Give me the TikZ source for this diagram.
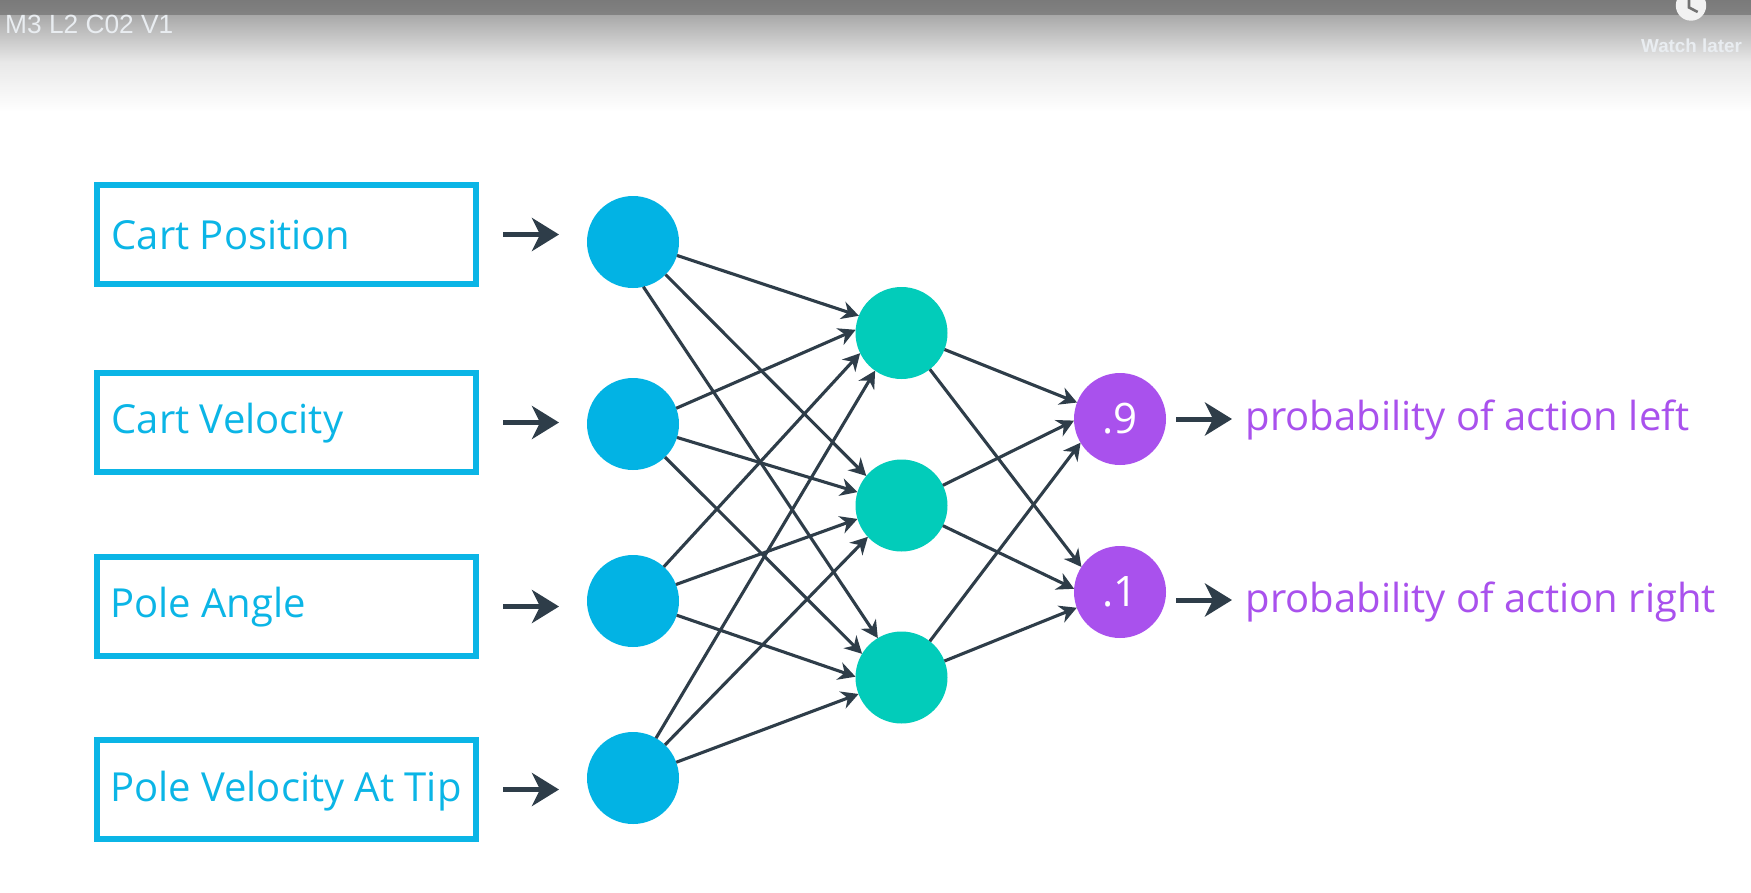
\documentclass[tikz,border=0pt]{standalone}
\usepackage{fontspec}
\setmainfont{Open Sans}
\newfontfamily\uifont{Liberation Sans}
\usetikzlibrary{arrows.meta}
\definecolor{inblue}{HTML}{02B3E4}
\definecolor{boxblue}{HTML}{0BB5E6}
\definecolor{hidteal}{HTML}{02CCBA}
\definecolor{outpurple}{HTML}{A951ED}
\definecolor{edgedark}{HTML}{2E3D49}
\definecolor{uilight}{HTML}{E9EDF1}
\tikzset{
  unit/.style={circle,minimum size=92pt,inner sep=0pt,outer sep=0pt,text=white,font=\fontsize{42}{48}\selectfont},
  inunit/.style={unit,fill=inblue},
  hidunit/.style={unit,fill=hidteal},
  outunit/.style={unit,fill=outpurple},
  featbox/.style={rectangle,draw=boxblue,line width=6pt,minimum width=379pt,minimum height=99pt,inner sep=0pt},
  featlabel/.style={anchor=base west,inner sep=0pt,text=boxblue,font=\fontsize{40}{48}\selectfont},
  outlabel/.style={anchor=base west,inner sep=0pt,text=outpurple,font=\fontsize{40}{48}\selectfont},
  thin edge/.style={draw=edgedark,line width=3.1pt,-{Stealth[length=17pt,width=18pt,inset=5.5pt]}},
  bold edge/.style={draw=edgedark,line width=5pt,-{Stealth[length=27pt,width=33pt,inset=8pt]}},
  uitext/.style={anchor=base west,inner sep=0pt,text=uilight,font=\uifont\fontsize{26.3}{30}\selectfont},
}
\begin{document}
\begin{tikzpicture}[x=1pt,y=-1pt]
\useasboundingbox (0,0) rectangle (1751,892);
\fill[white] (0,0) rectangle (1751,892);
% player overlay
\shade[top color=black!52,bottom color=black!49] (0,0) rectangle (1751,15);
\shade[top color=black!34,bottom color=black!9] (0,15) rectangle (1751,62);
\shade[top color=black!9,bottom color=white] (0,62) rectangle (1751,112);
\begin{scope}
\clip (0,0) rectangle (1751,892);
\fill[white!95!black] (1691,5.5) circle (15.2);
\draw[black!55,line width=2.6pt] (1689,-2) -- (1689,7.5) -- (1697.7,12);
\end{scope}
\node[uitext] (title) at (5,33) {M3 L2 C02 V1};
\node[uitext,font=\uifont\bfseries\fontsize{18.8}{22}\selectfont] (later) at (1641,52) {Watch later};
% feature boxes
\node[featbox] (box1) at (286.5,234.5) {};
\node[featbox] (box2) at (286.5,422.5) {};
\node[featbox] (box3) at (286.5,606.5) {};
\node[featbox] (box4) at (286.5,789.5) {};
\node[featlabel] (t1) at (111.5,249.5) {Cart Position};
\node[featlabel] (t2) at (111.5,433.5) {Cart Velocity};
\node[featlabel] (t3) at (110,617) {Pole Angle};
\node[featlabel] (t4) at (110,801) {Pole Velocity At Tip};
% units
\node[inunit] (i1) at (633,242) {};
\node[inunit] (i2) at (633,424) {};
\node[inunit] (i3) at (633,601) {};
\node[inunit] (i4) at (633,778) {};
\node[hidunit] (h1) at (901.5,333) {};
\node[hidunit] (h2) at (901.5,505.5) {};
\node[hidunit] (h3) at (901.5,677.5) {};
\node[outunit] (o1) at (1120,419) {.9};
\node[outunit] (o2) at (1120,592) {.1};
% input arrows
\foreach \k in {1,2,3,4}
  \draw[bold edge,shorten <=24pt,shorten >=28pt] (box\k.east) -- (box\k.east -| i\k.west);
% network edges
\draw[thin edge] (i1.-17.4) -- (h1.158);
\draw[thin edge] (i2.20) -- (h1.176);
\draw[thin edge] (i3.48) -- (h1.206);
\draw[thin edge] (i4.60) -- (h1.235.6);
\draw[thin edge] (i1.-45) -- (h2.140.3);
\draw[thin edge] (i2.-17.5) -- (h2.163);
\draw[thin edge] (i3.21) -- (h2.197.5);
\draw[thin edge] (i4.46) -- (h2.223);
\draw[thin edge] (i1.-77.8) -- (h3.121.7);
\draw[thin edge] (i2.-46.4) -- (h3.149.7);
\draw[thin edge] (i3.-18.6) -- (h3.179);
\draw[thin edge] (i4.20) -- (h3.201);
\draw[thin edge] (h1.-21.8) -- (o1.159);
\draw[thin edge] (h1.-52.8) -- (o2.147.4);
\draw[thin edge] (h2.26) -- (o1.182);
\draw[thin edge] (h2.-26) -- (o2.176);
\draw[thin edge] (h3.52.8) -- (o1.211);
\draw[thin edge] (h3.21.8) -- (o2.200);
% outputs
\node[outlabel] (l1) at (1245.5,430) {probability of action left};
\node[outlabel] (l2) at (1245.5,612) {probability of action right};
\coordinate (s1) at (1176,419);
\coordinate (e1) at (1232,419);
\coordinate (s2) at (1176,600);
\coordinate (e2) at (1232,600);
\draw[bold edge] (s1) -- (e1);
\draw[bold edge] (s2) -- (e2);
\end{tikzpicture}
\end{document}
